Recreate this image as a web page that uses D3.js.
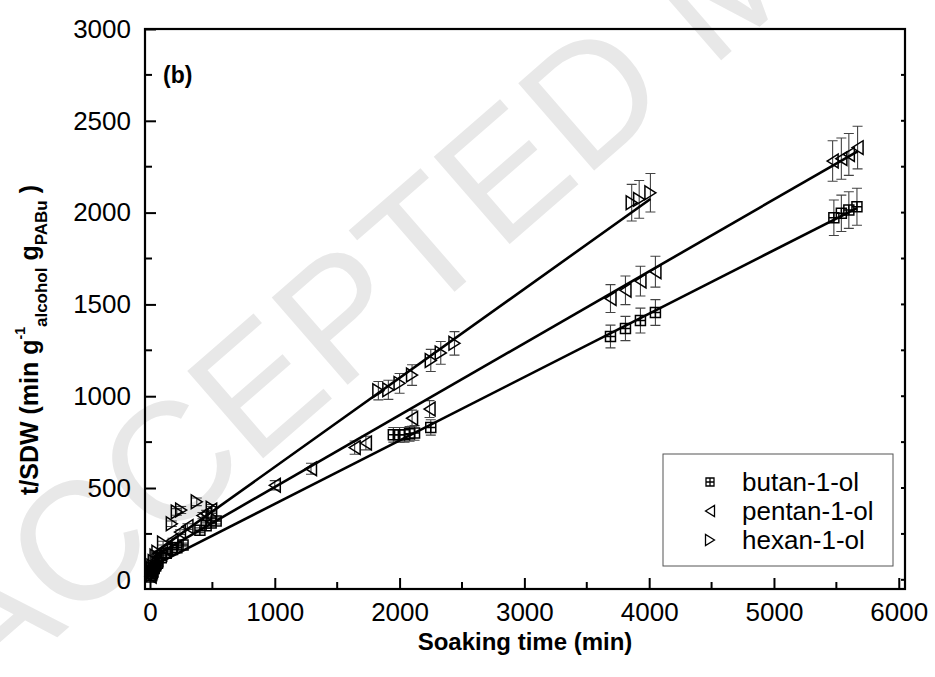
<!DOCTYPE html>
<html>
<head>
<meta charset="utf-8">
<script src="https://cdn.jsdelivr.net/npm/d3@7/dist/d3.min.js"></script>
<style>
  body { margin: 0; background: #fff; }
  svg { display: block; font-family: "Liberation Sans", Arial, sans-serif; }
</style>
</head>
<body>
<svg id="chart" width="935" height="677"></svg>
<script>
// ---- data ----
var butanT   = [5,10,15,20,30,45,60,90,130,180,215,265,400,450,490,530, 1950,2000,2040,2080,2120,2250, 3690,3810,3930,4050, 5480,5540,5600,5665];
var butanY   = [15,25,35,45,60,75,90,120,145,165,175,190,270,295,310,320, 790,790,790,795,800,830, 1325,1369,1412,1456, 1972,1996,2014,2032];
var butanErr = [1,1,2,2,3,4,4,6,7,8,9,10,13,15,15,16, 40,40,40,40,40,42, 62,66,68,70, 97,99,100,101];

var pentanT   = [5,10,15,20,30,45,60,90,120,180,240,300,420,450,490, 1000,1290,1640,1730, 2100,2240, 3690,3810,3930,4050, 5470,5540,5600,5670];
var pentanY   = [20,35,45,55,75,95,110,140,165,215,260,290,350,360,380, 515,605,720,745, 880,930, 1532,1577,1627,1678, 2281,2294,2317,2354];
var pentanErr = [1,2,2,3,4,5,6,7,8,11,13,15,17,18,19, 25,30,36,37, 44,46, 76,78,81,84, 110,112,114,116];

var hexanT   = [5,10,15,20,30,45,60,105,175,215,250,375,495, 1830,1910,2000,2100,2250,2330,2440, 3860,3920,4010];
var hexanY   = [25,45,60,75,100,130,150,200,305,370,380,425,390, 1030,1035,1070,1115,1195,1236,1288, 2054,2072,2108];
var hexanErr = [1,2,3,4,5,6,7,10,15,18,19,21,20, 50,52,54,56,60,62,64, 100,103,105];

// linear fits: slope, intercept, x range
var seriesNames  = ["butan-1-ol", "pentan-1-ol", "hexan-1-ol"];
var fitSlope     = [0.3454, 0.3915, 0.4848];
var fitIntercept = [68, 114, 130];
var fitFrom      = [20, 20, 20];
var fitTo        = [5665, 5670, 4010];

var xTicks = [0,1000,2000,3000,4000,5000,6000];
var yTicks = [0,500,1000,1500,2000,2500,3000];

// ---- setup ----
var svg = d3.select("#chart");
var pLeft = 145, pRight = 905, pTop = 29, pBottom = 589;

var x = d3.scaleLinear().domain([-40, 6050]).range([pLeft, pRight]);
var y = d3.scaleLinear().domain([-50, 3000]).range([pBottom, pTop]);

// watermark
svg.append("text")
   .attr("transform", "translate(-15,700) rotate(-41)")
   .attr("font-size", 168)
   .attr("fill", "#e8e8e8")
   .text("ACCEPTED MANUSCRIPT");

var series = [
  {name: seriesNames[0], t: butanT, v: butanY, e: butanErr, sym: "square"},
  {name: seriesNames[1], t: pentanT, v: pentanY, e: pentanErr, sym: "left"},
  {name: seriesNames[2], t: hexanT, v: hexanY, e: hexanErr, sym: "right"}
];

function symbolPath(sym, s){
  if(sym=="square")
    return "M"+(-s)+","+(-s)+"H"+s+"V"+s+"H"+(-s)+"Z M0,"+(-s)+"V"+s+" M"+(-s)+",0H"+s;
  var w = s*1.0, h = s*1.25;
  if(sym=="left")
    return "M"+(-w)+",0L"+w+","+(-h)+"L"+w+","+h+"Z";
  return "M"+w+",0L"+(-w)+","+(-h)+"L"+(-w)+","+h+"Z";
}

// error bars
var eb = svg.append("g").attr("stroke","#444").attr("stroke-width",1.1).attr("fill","none");
series.forEach(function(s){
  s.t.forEach(function(t,i){
    var cx = x(t), y1 = y(s.v[i]-s.e[i]), y2 = y(s.v[i]+s.e[i]);
    eb.append("path").attr("d","M"+cx+","+y1+"V"+y2+" M"+(cx-5)+","+y1+"H"+(cx+5)+" M"+(cx-5)+","+y2+"H"+(cx+5));
  });
});

// fitted lines
var fits = svg.append("g");
seriesNames.forEach(function(n,i){
  fits.append("line")
      .attr("x1", x(fitFrom[i])).attr("y1", y(fitIntercept[i]+fitSlope[i]*fitFrom[i]))
      .attr("x2", x(fitTo[i])).attr("y2", y(fitIntercept[i]+fitSlope[i]*fitTo[i]))
      .attr("stroke","#000").attr("stroke-width",2.6);
});

// markers
series.forEach(function(s){
  svg.append("g").selectAll("path").data(s.t).enter().append("path")
     .attr("transform", function(t,i){ return "translate("+x(t)+","+y(s.v[i])+")"; })
     .attr("d", symbolPath(s.sym, s.sym=="square"?5:5.5))
     .attr("fill","none").attr("stroke","#000").attr("stroke-width",1.5);
});

// axes
svg.append("rect").attr("x",pLeft).attr("y",pTop).attr("width",pRight-pLeft).attr("height",pBottom-pTop)
   .attr("fill","none").attr("stroke","#000").attr("stroke-width",2.2);

var xAxis = d3.axisBottom(x).tickValues(xTicks).tickSize(-11).tickPadding(14).tickFormat(d3.format("d"));
var gx = svg.append("g").attr("transform","translate(0,"+pBottom+")").call(xAxis);
var yAxis = d3.axisLeft(y).tickValues(yTicks).tickSize(-11).tickPadding(14).tickFormat(d3.format("d"));
var gy = svg.append("g").attr("transform","translate("+pLeft+",0)").call(yAxis);

// minor ticks
var xMinor = d3.range(500, 6000, 1000);
var yMinor = d3.range(250, 3000, 500);
svg.append("g").selectAll("line").data(xMinor).enter().append("line")
   .attr("x1",function(d){return x(d);}).attr("x2",function(d){return x(d);})
   .attr("y1",pBottom).attr("y2",pBottom-7).attr("stroke","#000").attr("stroke-width",2);
svg.append("g").selectAll("line").data(yMinor).enter().append("line")
   .attr("y1",function(d){return y(d);}).attr("y2",function(d){return y(d);})
   .attr("x1",pLeft).attr("x2",pLeft+7).attr("stroke","#000").attr("stroke-width",2);
// right axis small ticks
svg.append("g").selectAll("line").data(d3.range(0, 3000, 250)).enter().append("line")
   .attr("y1",function(d){return y(d);}).attr("y2",function(d){return y(d);})
   .attr("x1",pRight).attr("x2",pRight-4).attr("stroke","#000").attr("stroke-width",2);

[gx, gy].forEach(function(g){
  g.select(".domain").remove();
  g.selectAll(".tick line").attr("stroke","#000").attr("stroke-width",2);
  g.selectAll(".tick text").attr("font-size",26).attr("fill","#000")
   .attr("font-family","'Liberation Sans', Arial, sans-serif");
});

// axis titles
svg.append("text").attr("x", (pLeft+pRight)/2).attr("y", 650)
   .attr("text-anchor","middle").attr("font-weight","bold").attr("font-size",24)
   .text("Soaking time (min)");

var yl = svg.append("text").attr("transform","translate(38,340) rotate(-90)")
   .attr("text-anchor","middle").attr("font-weight","bold").attr("font-size",25);
yl.append("tspan").text("t/SDW (min g");
yl.append("tspan").attr("font-size",14).attr("dy",-13).text("-1");
yl.append("tspan").attr("font-size",17).attr("dy",22).text("alcohol");
yl.append("tspan").attr("dy",-9).text(" g");
yl.append("tspan").attr("font-size",17).attr("dy",9).text("PABu");
yl.append("tspan").attr("dy",-9).text(" )");

// panel label
svg.append("text").attr("x",163).attr("y",83).attr("font-weight","bold").attr("font-size",23).text("(b)");

// legend
var lg = svg.append("g");
lg.append("rect").attr("x",663).attr("y",454).attr("width",230).attr("height",112)
  .attr("fill","#fff").attr("stroke","#555").attr("stroke-width",1);
series.forEach(function(s,i){
  var cy = 482 + i*29;
  lg.append("path").attr("transform","translate(710,"+cy+")")
    .attr("d", symbolPath(s.sym, s.sym=="square"?4:4.5))
    .attr("fill","none").attr("stroke","#000").attr("stroke-width",1.3);
  lg.append("text").attr("x",742).attr("y",cy+9).attr("font-size",26).text(s.name);
});
</script>
</body>
</html>
